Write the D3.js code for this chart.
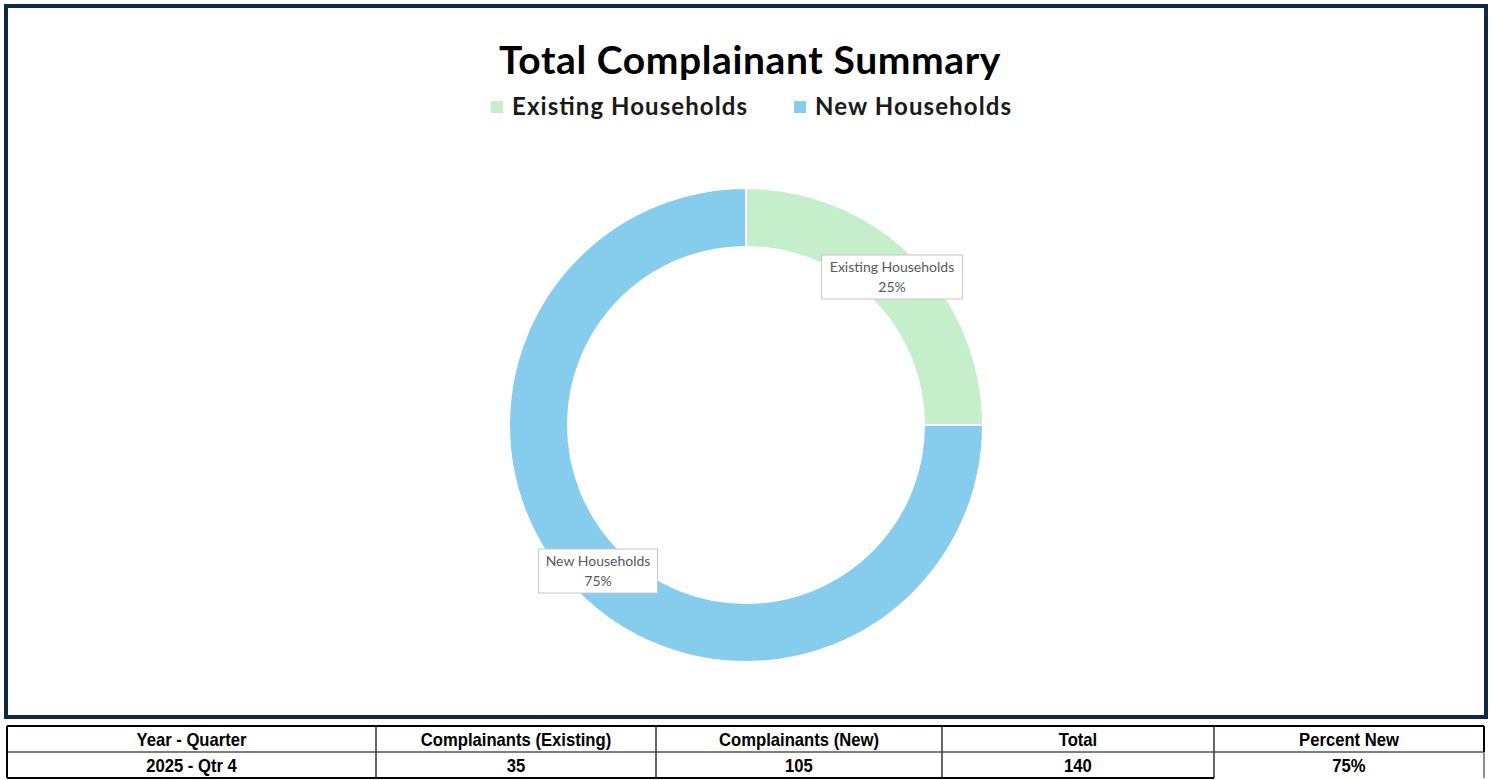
<!DOCTYPE html>
<html><head><meta charset="utf-8">
<script src="https://cdn.jsdelivr.net/npm/d3@7"></script>
<style>
html,body{margin:0;padding:0;background:#fff;}
svg{display:block;}
</style></head>
<body>
<svg id="chart" width="1494" height="780"></svg>
<script>
// ---- data ----
const categories = ["Existing Households", "New Households"];
const values = [35, 105];
const colors = ["#c4efca", "#86ccec"];
const chartTitle = "Total Complainant Summary";
const tableHeaders = ["Year - Quarter", "Complainants (Existing)", "Complainants (New)", "Total", "Percent New"];
const tableRow = ["2025 - Qtr 4", "35", "105", "140", "75%"];

const svg = d3.select("#chart");
const W = 1494, H = 780;
svg.append("rect").attr("width", W).attr("height", H).attr("fill", "#fff");

// chart frame
svg.append("rect").attr("x", 6).attr("y", 6).attr("width", 1480).attr("height", 711)
  .attr("fill", "#fff").attr("stroke", "#0f2945").attr("stroke-width", 4);

// title
svg.append("text").attr("x", 750).attr("y", 74).attr("text-anchor", "middle")
  .attr("font-family", "Lato, 'Open Sans', sans-serif").attr("font-weight", 700)
  .attr("font-size", 39).attr("letter-spacing", 0.6).attr("fill", "#000").text(chartTitle);

// legend
const legendFont = "Lato, 'Open Sans', sans-serif";
const legend = svg.append("g");
const legX = [491, 794];
const legTextW = [235, 196];
categories.forEach((c, i) => {
  const g = legend.append("g").attr("transform", `translate(${legX[i]},0)`);
  g.append("rect").attr("x", 0).attr("y", 101).attr("width", 12).attr("height", 12).attr("fill", colors[i]);
  g.append("text").attr("x", 21).attr("y", 115).attr("font-family", legendFont)
    .attr("font-weight", 700).attr("font-size", 24).attr("fill", "#1a1a1a")
    .attr("textLength", legTextW[i]).attr("lengthAdjust", "spacing").text(c);
});

// donut
const cx = 746, cy = 425, rOuter = 237, rInner = 178;
const pie = d3.pie().sort(null).value(d => d);
const arcs = pie(values);
const arc = d3.arc().innerRadius(rInner).outerRadius(rOuter);
const gD = svg.append("g").attr("transform", `translate(${cx},${cy})`);
gD.selectAll("path").data(arcs).join("path")
  .attr("d", arc).attr("fill", (d, i) => colors[i])
  .attr("stroke", "#fff").attr("stroke-width", 2);

// data labels
const total = d3.sum(values);
const fmt = d3.format(".0%");
const labelPos = [[892, 277], [598, 571]];
const boxW = [141, 119];
arcs.forEach((a, i) => {
  const [lx, ly] = labelPos[i];
  const g = svg.append("g");
  g.append("rect").attr("x", lx - boxW[i] / 2).attr("y", ly - 22).attr("width", boxW[i]).attr("height", 44)
    .attr("fill", "#fff").attr("stroke", "#c8c8c8").attr("stroke-width", 1);
  g.append("text").attr("x", lx).attr("y", ly - 5).attr("text-anchor", "middle")
    .attr("font-family", "Lato, 'Open Sans', sans-serif").attr("font-size", 14).attr("fill", "#595959")
    .text(categories[i]);
  g.append("text").attr("x", lx).attr("y", ly + 15).attr("text-anchor", "middle")
    .attr("font-family", "Lato, 'Open Sans', sans-serif").attr("font-size", 14).attr("fill", "#595959")
    .text(fmt(values[i] / total));
});

// table
const colEdges = [7, 376, 656, 942, 1214, 1484];
const rowEdges = [726, 752, 778];
const tg = svg.append("g");
const tFont = "'Liberation Sans', Arial, sans-serif";
[tableHeaders, tableRow].forEach((row, r) => {
  row.forEach((t, c) => {
    const tx = (colEdges[c] + colEdges[c + 1]) / 2;
    const ty = (rowEdges[r] + rowEdges[r + 1]) / 2 + 6.5;
    tg.append("text").attr("transform", `translate(${tx},${ty}) scale(0.9,1)`)
      .attr("text-anchor", "middle").attr("font-family", tFont)
      .attr("font-weight", 700).attr("font-size", 18.5)
      .attr("fill", "#000").text(t);
  });
});
tg.append("line").attr("x1", colEdges[0]).attr("x2", colEdges[5]).attr("y1", rowEdges[1]).attr("y2", rowEdges[1])
  .attr("stroke", "#555").attr("stroke-width", 1.5);
colEdges.slice(1, 5).forEach(x => {
  tg.append("line").attr("x1", x).attr("x2", x).attr("y1", rowEdges[0]).attr("y2", rowEdges[2])
    .attr("stroke", "#333").attr("stroke-width", 1.5);
});
tg.append("line").attr("x1", colEdges[0]).attr("x2", colEdges[5]).attr("y1", rowEdges[0]).attr("y2", rowEdges[0])
  .attr("stroke", "#000").attr("stroke-width", 2);
tg.append("line").attr("x1", colEdges[0]).attr("x2", colEdges[0]).attr("y1", rowEdges[0]).attr("y2", rowEdges[2])
  .attr("stroke", "#000").attr("stroke-width", 2);
tg.append("line").attr("x1", colEdges[5]).attr("x2", colEdges[5]).attr("y1", rowEdges[0]).attr("y2", rowEdges[1])
  .attr("stroke", "#000").attr("stroke-width", 2);
tg.append("line").attr("x1", colEdges[5]).attr("x2", colEdges[5]).attr("y1", rowEdges[1]).attr("y2", rowEdges[2])
  .attr("stroke", "#666").attr("stroke-width", 1.5);
tg.append("line").attr("x1", colEdges[0]).attr("x2", colEdges[4]).attr("y1", rowEdges[2]).attr("y2", rowEdges[2])
  .attr("stroke", "#000").attr("stroke-width", 2);
</script>
</body></html>
